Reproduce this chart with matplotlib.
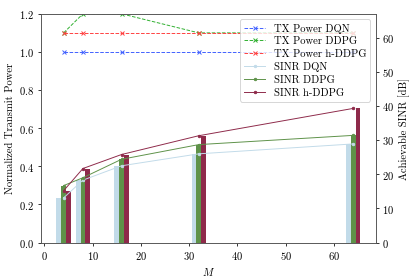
import matplotlib
matplotlib.use('Agg')
import matplotlib.pyplot as plt
import numpy as np

plt.rcParams['font.family'] = 'cmr10'
plt.rcParams['mathtext.fontset'] = 'cm'
plt.rcParams['axes.formatter.use_mathtext'] = True
plt.rcParams['font.size'] = 11

M = [4, 8, 16, 32, 64]

# normalized transmit power
tx_dqn = [1.0, 1.0, 1.0, 1.0, 1.0]
tx_ddpg = [1.1, 1.2, 1.2, 1.1, 1.1]
tx_hddpg = [1.1, 1.1, 1.1, 1.1, 1.1]

# achievable SINR [dB]
sinr_dqn = [13.1, 18.3, 22.5, 26.0, 28.9]
sinr_ddpg = [16.7, 19.0, 24.4, 28.7, 31.4]
sinr_hddpg = [15.2, 21.7, 25.8, 31.3, 39.3]

c_dqn = '#c2dbe9'
c_ddpg = '#5e9249'
c_hddpg = '#8e2a4a'

fig = plt.figure(figsize=(6, 4))
ax1 = fig.add_subplot(111)
ax2 = ax1.twinx()

l1, = ax1.plot(M, tx_dqn, '--x', color='#4060ff', lw=1, ms=4, label='TX Power DQN')
l2, = ax1.plot(M, tx_ddpg, '--x', color='#30b030', lw=1, ms=4, label='TX Power DDPG')
l3, = ax1.plot(M, tx_hddpg, '--x', color='#ff4040', lw=1, ms=4, label='TX Power h-DDPG')
ax1.set_ylim(0, 1.2)
ax1.set_ylabel('Normalized Transmit Power')
ax1.set_xlabel('$M$')

x = np.array(M)
ax2.bar(x - 1, sinr_dqn, width=1, color=c_dqn)
ax2.bar(x, sinr_ddpg, width=1, color=c_ddpg)
ax2.bar(x + 1, sinr_hddpg, width=1, color=c_hddpg)
l4, = ax2.plot(M, sinr_dqn, '.-', color=c_dqn, lw=1, ms=5, label='SINR DQN')
l5, = ax2.plot(M, sinr_ddpg, '.-', color=c_ddpg, lw=1, ms=5, label='SINR DDPG')
l6, = ax2.plot(M, sinr_hddpg, '.-', color=c_hddpg, lw=1, ms=5, label='SINR h-DDPG')
ax2.set_ylim(0, 67)
ax2.set_yticks([0, 10, 20, 30, 40, 50, 60])
ax2.set_ylabel('Achievable SINR [dB]')

for ax in (ax1, ax2):
    for s in ax.spines.values():
        s.set_color('#555555')

lines = [l1, l2, l3, l4, l5, l6]
ax2.legend(lines, [l.get_label() for l in lines], loc='upper right', labelspacing=0.3)

plt.subplots_adjust(left=0.099, right=0.903, bottom=0.124, top=0.949)
plt.savefig('out.png', dpi=416 / 6)
